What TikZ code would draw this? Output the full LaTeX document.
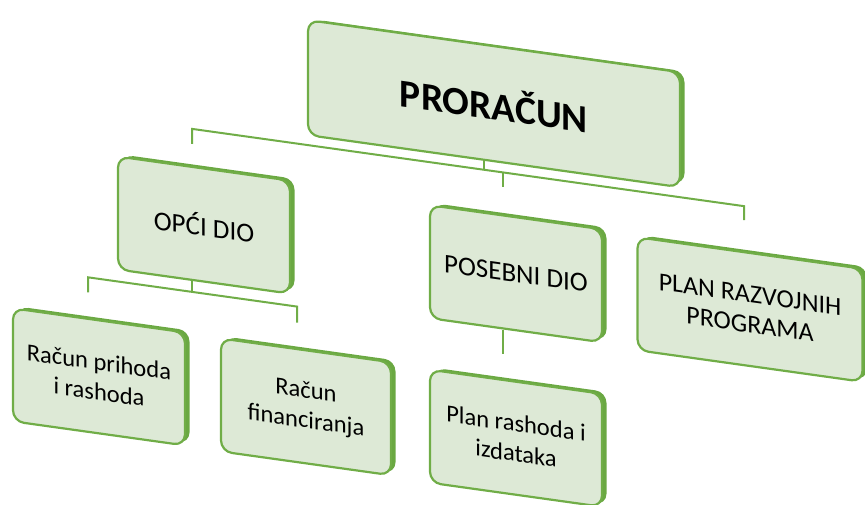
\documentclass[tikz,border=0pt]{standalone}
\usepackage{fontspec}
\setmainfont{Carlito}
\definecolor{gline}{HTML}{70AD47}
\definecolor{gedge}{HTML}{6AA842}
\definecolor{gfill}{HTML}{DDE9D6}
\begin{document}
\begin{tikzpicture}[x=1pt,y=-1pt,
  box/.style={draw=gline, line width=2.2pt, fill=gfill, rounded corners=11pt,
    minimum width=#1, minimum height=113pt, align=center, inner sep=0pt,
    transform shape, font=\fontsize{24.5}{30}\selectfont},
  box/.default=172pt,
  midtext/.style={font=\fontsize{27}{31}\selectfont},
  conn/.style={draw=gline, line width=2pt}]
\useasboundingbox (0,0) rectangle (865,505);
\begin{scope}[yslant=-0.14]
  % 3D edges (back faces)
  \foreach \cx/\cy/\w in {494/34.5/372, 204/196.5/172, 516/201.5/172, 750/204.5/225,
                          99/363/172, 306/364/170, 516/366/172}{
    \fill[gedge, rounded corners=11pt, transform shape]
      (\cx-\w/2+4.5, \cy-56.5-2.5) rectangle (\cx+\w/2+4.5, \cy+56.5-2.5);
  }
  % connector junctions
  \coordinate (t0) at (484,102);
  \coordinate (tl) at (192,102);
  \coordinate (tr) at (744,102);
  \coordinate (tm) at (503,102);
  \coordinate (tlD) at (192,117);
  \coordinate (trD) at (744,116);
  \coordinate (tmD) at (503,117);
  \coordinate (o0) at (192,265);
  \coordinate (ol) at (88,265);
  \coordinate (or) at (297,265);
  \coordinate (olD) at (88,280);
  \coordinate (orD) at (297,281);
  \coordinate (pD) at (503,284);
  % boxes
  \node[box=372pt, minimum height=115pt, font=\fontsize{39.5}{44}\selectfont\bfseries] (pror) at (494,34.5) {PRORAČUN};
  \node[box, midtext] (opci) at (204,196.5) {OPĆI DIO};
  \node[box, midtext] (pos) at (516,201.5) {POSEBNI DIO};
  \node[box=225pt, font=\fontsize{26}{30}\selectfont] (plan) at (750,204.5) {PLAN RAZVOJNIH\\PROGRAMA};
  \node[box] (rpr) at (99,363) {Račun prihoda\\i rashoda};
  \node[box=170pt] (rfin) at (306,364) {Račun\\financiranja};
  \node[box] (plr) at (516,366) {Plan rashoda i\\izdataka};
  % connectors
  \draw[conn] (pror.south -| t0) -- (t0);
  \draw[conn] (tlD) -- (tl) -- (tr) -- (trD);
  \draw[conn] (tm) -- (tmD);
  \draw[conn] (opci.south -| o0) -- (o0);
  \draw[conn] (olD) -- (ol) -- (or) -- (orD);
  \draw[conn] (pos.south -| pD) -- (pD);
\end{scope}
\end{tikzpicture}
\end{document}
